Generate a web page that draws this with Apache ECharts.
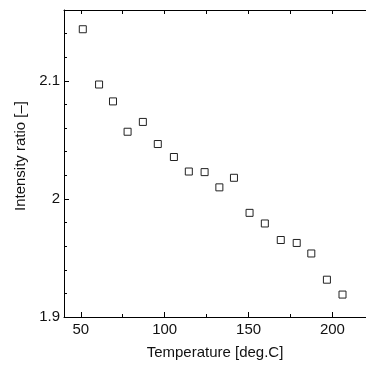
<!DOCTYPE html>
<html>
<head>
<meta charset="utf-8">
<script src="https://cdn.jsdelivr.net/npm/echarts@6/dist/echarts.min.js"></script>
<style>html,body{margin:0;padding:0;background:#fff}#c{width:366px;height:365px}</style>
</head>
<body>
<div id="c"></div>
<script>
// Data
var temperature = [51.2, 60.9, 69.2, 77.9, 87.0, 95.9, 105.5, 114.4, 123.8, 132.6, 141.3, 150.6, 159.7, 169.2, 178.7, 187.4, 196.7, 206.0];
var intensityRatio = [2.1437, 2.0969, 2.0826, 2.0569, 2.0652, 2.0465, 2.0355, 2.0232, 2.0227, 2.0098, 2.0179, 1.9882, 1.9792, 1.9652, 1.9627, 1.9538, 1.9316, 1.9190];
var xMajorTicks = [50, 100, 150, 200];
var xMinorTicks = [75, 125, 175];
var xTopTicks = [50, 75, 100, 125, 150, 175, 200];
var yMajorTicks = [1.9, 2, 2.1];
var yMinorTicks = [1.92, 1.94, 1.96, 1.98, 2.02, 2.04, 2.06, 2.08, 2.12, 2.14];
var xRange = [40, 220];
var yRange = [1.9, 2.16];

var points = temperature.map(function (t, i) { return [t, intensityRatio[i]]; });
var font = 'Liberation Sans, Arial, sans-serif';
var lineStyle = { color: '#000', width: 1 };

var chart = echarts.init(document.getElementById('c'), null, { renderer: 'canvas' });
chart.setOption({
  animation: false,
  backgroundColor: '#fff',
  grid: { left: 64, top: 10, width: 310, height: 310 },
  xAxis: [
    {
      type: 'value', min: xRange[0], max: xRange[1], position: 'bottom',
      name: 'Temperature [deg.C]', nameLocation: 'middle', nameGap: 28,
      nameTextStyle: { fontFamily: font, fontSize: 15, color: '#111' },
      axisLine: { show: true, onZero: false, lineStyle: lineStyle },
      axisTick: { show: true, inside: true, length: 5, lineStyle: lineStyle, customValues: xMajorTicks },
      axisLabel: { show: true, margin: 5, fontFamily: font, fontSize: 15, color: '#111', customValues: xMajorTicks },
      splitLine: { show: false }
    },
    {
      type: 'value', min: xRange[0], max: xRange[1], position: 'bottom',
      axisLine: { show: false },
      axisTick: { show: true, inside: true, length: 3, lineStyle: lineStyle, customValues: xMinorTicks },
      axisLabel: { show: false },
      splitLine: { show: false }
    },
    {
      type: 'value', min: xRange[0], max: xRange[1], position: 'top',
      axisLine: { show: true, onZero: false, lineStyle: lineStyle },
      axisTick: { show: true, inside: true, length: 4, lineStyle: lineStyle, customValues: xTopTicks },
      axisLabel: { show: false },
      splitLine: { show: false }
    }
  ],
  yAxis: [
    {
      type: 'value', min: yRange[0], max: yRange[1], position: 'left',
      name: 'Intensity ratio [–]', nameLocation: 'middle', nameGap: 36, nameRotate: 90,
      nameTextStyle: { fontFamily: font, fontSize: 15, color: '#111', padding: [0, 0, 0, 15] },
      axisLine: { show: true, onZero: false, lineStyle: lineStyle },
      axisTick: { show: true, inside: true, length: 5, lineStyle: lineStyle, customValues: yMajorTicks },
      axisLabel: { show: true, margin: 4, fontFamily: font, fontSize: 15, color: '#111', customValues: yMajorTicks,
        formatter: function (v) { return String(Math.round(v * 10) / 10); } },
      splitLine: { show: false }
    },
    {
      type: 'value', min: yRange[0], max: yRange[1], position: 'left',
      axisLine: { show: false },
      axisTick: { show: true, inside: true, length: 3, lineStyle: lineStyle, customValues: yMinorTicks },
      axisLabel: { show: false },
      splitLine: { show: false }
    }
  ],
  series: [{
    type: 'scatter',
    xAxisIndex: 0, yAxisIndex: 0,
    data: points,
    symbol: 'rect',
    symbolSize: 7,
    itemStyle: { color: '#fff', borderColor: '#222', borderWidth: 1, opacity: 1 },
    emphasis: { disabled: true }
  }]
});
</script>
</body>
</html>
